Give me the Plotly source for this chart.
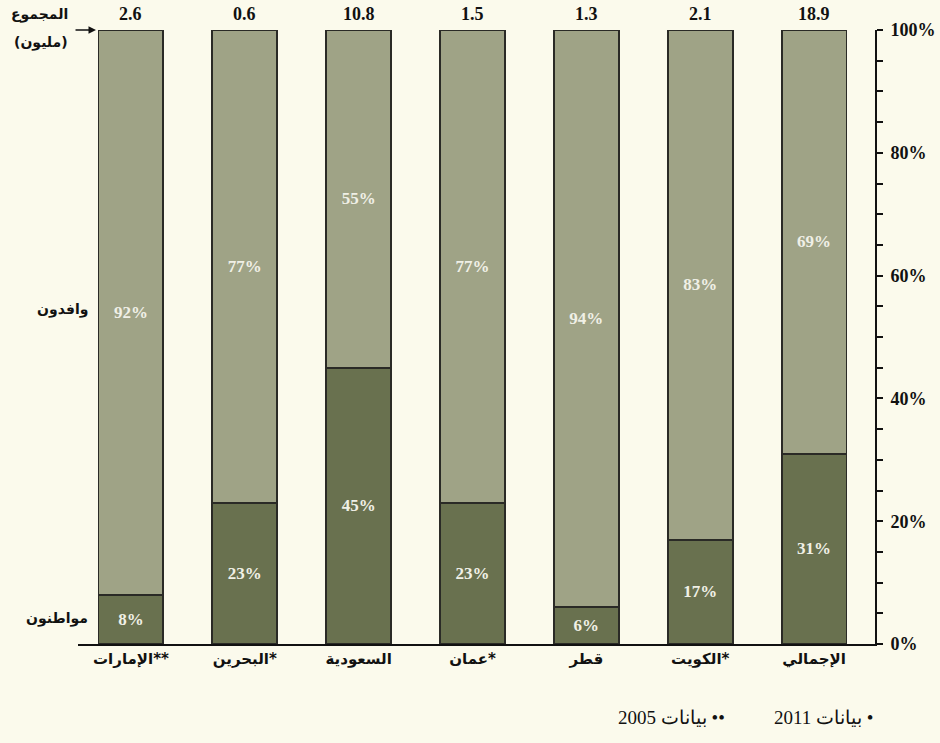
import plotly.graph_objects as go

RLM = "\u200f"
categories = ["**الإمارات", "*البحرين", "السعودية", "*عمان", "قطر", "*الكويت", "الإجمالي"]
citizens = [8, 23, 45, 23, 6, 17, 31]
expats = [92, 77, 55, 77, 94, 83, 69]
totals = ["2.6", "0.6", "10.8", "1.5", "1.3", "2.1", "18.9"]
ytick_vals = list(range(0, 101, 5))
ytick_text = [f"<b>{v}%</b>" if v % 20 == 0 else "" for v in ytick_vals]

BG = "#fbfaec"
C_TOP = "#9fa386"
C_BOT = "#69714f"
EDGE = "#2a2a26"
SERIF = "Liberation Serif, Times New Roman, serif"
SANS = "DejaVu Sans, Arial, sans-serif"

cat_labels = [RLM + c for c in categories]

fig = go.Figure()
fig.add_bar(x=cat_labels, y=citizens, name="مواطنون", marker=dict(color=C_BOT, line=dict(color=EDGE, width=1.8)),
            width=0.57, text=[f"<b>{v}%</b>" for v in citizens], textposition="inside", insidetextanchor="middle",
            textfont=dict(family=SERIF, size=17, color="#f0f0e6"), textangle=0)
fig.add_bar(x=cat_labels, y=expats, name="وافدون", marker=dict(color=C_TOP, line=dict(color=EDGE, width=1.8)),
            width=0.57, text=[f"<b>{v}%</b>" for v in expats], textposition="inside", insidetextanchor="middle",
            textfont=dict(family=SERIF, size=17, color="#f0f0e6"), textangle=0)

for c, t in zip(cat_labels, totals):
    fig.add_annotation(x=c, y=100, yref="y", text=f"<b>{t}</b>", showarrow=False, yanchor="bottom", yshift=4,
                       font=dict(family=SERIF, size=18, color="#111"))

# left-side labels
fig.add_annotation(xref="paper", yref="paper", x=-0.010, y=1.026, xanchor="right", yanchor="middle",
                   text="<b>المجموع</b>", showarrow=False, font=dict(family=SANS, size=14, color="#111"))
fig.add_annotation(xref="paper", yref="paper", x=-0.010, y=0.980, xanchor="right", yanchor="middle",
                   text="<b>" + RLM + "(مليون)</b>", showarrow=False, font=dict(family=SANS, size=14, color="#111"))
fig.add_annotation(xref="paper", yref="y", x=0.0226, y=100, ax=-22, ay=0, text="", showarrow=True,
                   arrowhead=2, arrowsize=1, arrowwidth=1.5, arrowcolor="#111")
fig.add_annotation(xref="paper", yref="paper", x=0.015, y=0.544, xanchor="right", yanchor="middle",
                   text="<b>وافدون</b>", showarrow=False, font=dict(family=SANS, size=14, color="#111"))
fig.add_annotation(xref="paper", yref="paper", x=0.015, y=0.042, xanchor="right", yanchor="middle",
                   text="<b>مواطنون</b>", showarrow=False, font=dict(family=SANS, size=14, color="#111"))

# footnotes
fig.add_annotation(xref="paper", yref="paper", x=1.0, y=-0.1205, xanchor="right", yanchor="middle",
                   text=RLM + "• بيانات 2011", showarrow=False, font=dict(family=SERIF, size=19, color="#111"))
fig.add_annotation(xref="paper", yref="paper", x=0.814, y=-0.1205, xanchor="right", yanchor="middle",
                   text=RLM + "•• بيانات 2005", showarrow=False, font=dict(family=SERIF, size=19, color="#111"))

fig.update_layout(
    width=940, height=743, barmode="stack", showlegend=False,
    paper_bgcolor=BG, plot_bgcolor=BG,
    margin=dict(l=78, r=65, t=30, b=99),
    xaxis=dict(range=[-0.465, 6.535], showline=True, linecolor="#111", linewidth=1.8, ticks="",
               showgrid=False, zeroline=False, tickfont=dict(family=SANS, size=15, color="#111"),
               tickprefix="<b>", ticksuffix="</b>", automargin=False),
    yaxis=dict(range=[0, 100], side="right", showline=True, linecolor="#111", linewidth=1.8,
               ticks="outside", ticklen=6, tickwidth=1.5, tickcolor="#111", tickvals=ytick_vals, ticktext=ytick_text,
               showgrid=False, zeroline=False, tickfont=dict(family=SERIF, size=18, color="#111"),
               ticklabelstandoff=4, automargin=False),
)

fig.write_html("out.html", config={"displayModeBar": False},
               post_script="document.body.style.margin='0px';document.body.style.background='" + BG + "';")
